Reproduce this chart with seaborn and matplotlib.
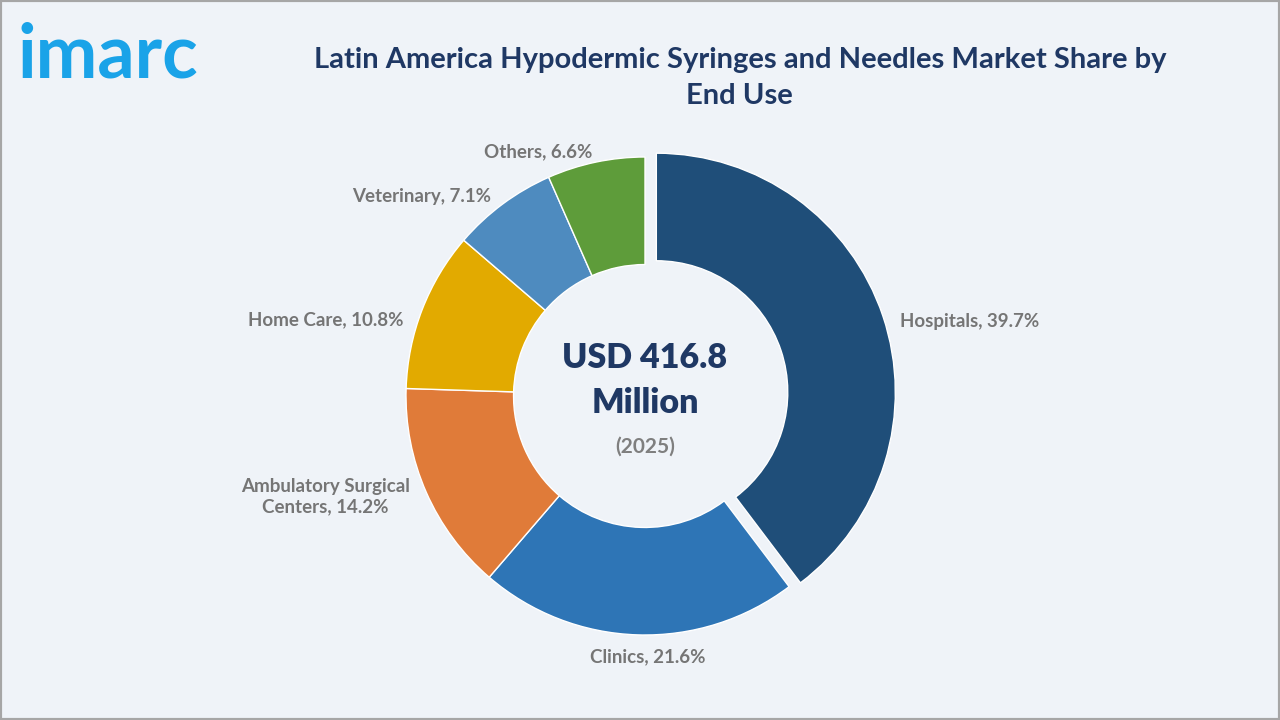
# Latin America hypodermic syringes & needles – market share by end use (donut)

import numpy as np
import seaborn as sns
import matplotlib.pyplot as plt
from matplotlib.patches import Rectangle

segments = ['Hospitals', 'Clinics', 'Ambulatory Surgical\nCenters', 'Home Care', 'Veterinary', 'Others']
shares = [39.7, 21.6, 14.2, 10.8, 7.1, 6.6]
colors = ['#1F4E79', '#2E75B6', '#E07B39', '#E2AA00', '#4E8BBF', '#5E9C3A']

sns.set_theme(style='white')
plt.rcParams['font.family'] = ['Lato', 'DejaVu Sans']

bg = '#EFF3F8'
fig = plt.figure(figsize=(12.8, 7.2), dpi=100, facecolor=bg)

# pie radius ~239 px, centre at (645, 396) px
r_px = 239
cx, cy = 645, 720 - 396
side = 2 * r_px * 1.1
ax = fig.add_axes([(cx - side / 2) / 1280, (cy - side / 2) / 720, side / 1280, side / 720])
ax.set_facecolor(bg)

labels = [f'{s}, {v}%' for s, v in zip(segments, shares)]
wedges, texts = ax.pie(
    shares,
    labels=labels,
    colors=sns.color_palette(colors),
    startangle=90,
    counterclock=False,
    explode=[0.05, 0, 0, 0, 0, 0],
    labeldistance=1.09,
    wedgeprops=dict(width=0.45, edgecolor='white', linewidth=1),
    textprops=dict(color='#757575', fontsize=13.5, fontweight='bold'),
)

# label placement like the original (excel-style)
label_pos = [(1.066, 0.31, 'left'), (0.013, -1.09, 'center'), (-0.985, -0.42, 'right'),
             (-1.01, 0.32, 'right'), (-0.645, 0.835, 'right'), (-0.222, 1.02, 'right')]
for t, (x, y, ha) in zip(texts, label_pos):
    t.set_position((x, y))
    t.set_ha(ha)
    t.set_va('center')
    t.set_multialignment('center')

ax.set_xlim(-1.1, 1.1)
ax.set_ylim(-1.1, 1.1)
ax.set_aspect('equal')
ax.axis('off')

ax.text(0, 0.16, 'USD 416.8', ha='center', va='center', fontsize=24.5, fontweight='heavy', color='#1F3864')
ax.text(0, -0.028, 'Million', ha='center', va='center', fontsize=24.5, fontweight='heavy', color='#1F3864')
ax.text(0, -0.21, '(2025)', ha='center', va='center', fontsize=15, fontweight='bold', color='#7F7F7F')

fig.text(0.578, 0.892, 'Latin America Hypodermic Syringes and Needles Market Share by\nEnd Use',
         ha='center', va='center', fontsize=21, fontweight='bold', color='#1F3864', linespacing=1.5)
fig.text(0.014, 0.922, 'imarc', ha='left', va='center', fontsize=53, fontweight='bold', color='#1AA3E8')

fig.patches.append(Rectangle((0, 0), 1, 1, transform=fig.transFigure, fill=False,
                             edgecolor='#A6A6A6', linewidth=3))

plt.savefig('out.png', dpi=100, facecolor=bg)
